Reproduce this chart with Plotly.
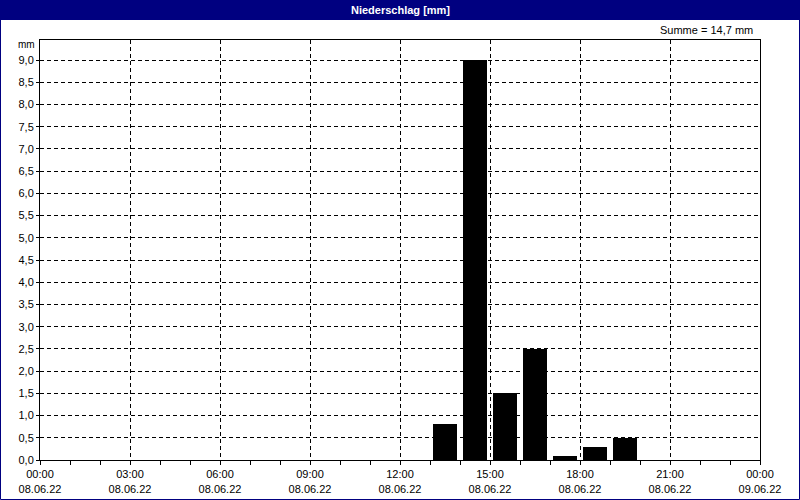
import plotly.graph_objects as go

times = ["2022-06-08 13:30", "2022-06-08 14:30", "2022-06-08 15:30", "2022-06-08 16:30",
         "2022-06-08 17:30", "2022-06-08 18:30", "2022-06-08 19:30"]
values = [0.8, 9.0, 1.5, 2.5, 0.1, 0.3, 0.5]

x_tickvals = ["2022-06-08 00:00", "2022-06-08 03:00", "2022-06-08 06:00", "2022-06-08 09:00",
              "2022-06-08 12:00", "2022-06-08 15:00", "2022-06-08 18:00", "2022-06-08 21:00",
              "2022-06-09 00:00"]
x_ticktext = ["00:00<br>08.06.22", "03:00<br>08.06.22", "06:00<br>08.06.22", "09:00<br>08.06.22",
              "12:00<br>08.06.22", "15:00<br>08.06.22", "18:00<br>08.06.22", "21:00<br>08.06.22",
              "00:00<br>09.06.22"]
y_tickvals = [i * 0.5 for i in range(19)]
y_ticktext = [f"{v:.1f}".replace(".", ",") for v in y_tickvals]

FONT = "Liberation Sans"

fig = go.Figure(go.Bar(x=times, y=values, width=0.8 * 3600000,
                       marker=dict(color="#000000", line=dict(width=0))))

fig.update_layout(
    width=800, height=500,
    margin=dict(l=40, r=40, t=40, b=40, autoexpand=False),
    paper_bgcolor="white", plot_bgcolor="white",
    showlegend=False,
    font=dict(family=FONT, size=11, color="#000000"),
    bargap=0,
)
fig.update_xaxes(
    type="date", range=["2022-06-08 00:00", "2022-06-09 00:00"],
    tickmode="array", tickvals=x_tickvals, ticktext=x_ticktext,
    showgrid=True, gridcolor="#000000", griddash="4px,3px", gridwidth=1,
    showline=True, linecolor="#000000", linewidth=1, mirror=True,
    ticks="outside", ticklen=4, tickcolor="#000000",
    minor=dict(dtick=3600000, ticks="outside", ticklen=4, tickcolor="#000000", showgrid=False),
    zeroline=False, tickfont=dict(family=FONT, size=11), automargin=False,
)
fig.update_yaxes(
    range=[0, 9.45], tickmode="array", tickvals=y_tickvals, ticktext=y_ticktext,
    showgrid=True, gridcolor="#000000", griddash="4px,3px", gridwidth=1,
    showline=True, linecolor="#000000", linewidth=1, mirror=True,
    ticks="outside", ticklen=3, tickcolor="#000000",
    zeroline=False, tickfont=dict(family=FONT, size=11), automargin=False,
)

# title bar and outer border
fig.add_shape(type="rect", xref="paper", yref="paper", x0=-0.06, x1=1.06,
              y0=1 + 20 / 420, y1=1 + 41 / 420,
              fillcolor="#000080", line=dict(width=0), layer="above")
fig.add_shape(type="rect", xref="paper", yref="paper",
              x0=-40 / 720 + 0.5 / 720, x1=1 + 40 / 720 - 0.5 / 720,
              y0=-40 / 420 + 0.5 / 420, y1=1 + 40 / 420 - 0.5 / 420,
              line=dict(color="#000080", width=1), fillcolor="rgba(0,0,0,0)", layer="above")

fig.add_annotation(text="Niederschlag [mm]", xref="paper", yref="paper", x=0.5, y=1 + 30 / 420,
                   showarrow=False, font=dict(family=FONT, size=11, color="white", weight="bold"),
                   xanchor="center", yanchor="middle")
fig.add_annotation(text="Summe = 14,7 mm", xref="paper", yref="paper", x=1 - 5 / 720, y=1 + 10 / 420,
                   showarrow=False, font=dict(family=FONT, size=11), xanchor="right", yanchor="middle")
fig.add_annotation(text="mm", xref="paper", yref="paper", x=-3 / 720, y=1 - 5 / 420,
                   showarrow=False, font=dict(family=FONT, size=10), xanchor="right", yanchor="middle")

fig.write_html("out.html", config={"displayModeBar": False},
               post_script="document.body.style.margin='0';document.body.style.padding='0';")
